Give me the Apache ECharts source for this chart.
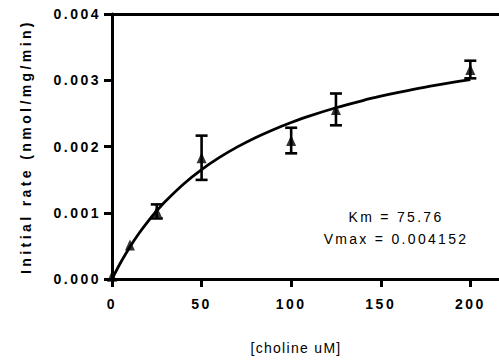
<!DOCTYPE html>
<html>
<head>
<meta charset="utf-8">
<script src="https://cdn.jsdelivr.net/npm/echarts@6/dist/echarts.min.js"></script>
<style>
  html, body { margin: 0; padding: 0; background: #fff; }
  #chart { width: 499px; height: 360px; }
</style>
</head>
<body>
<div id="chart"></div>
<script>
// Measured data (choline concentration, uM) and initial rate with SEM
const concentration = [0, 10, 25, 50, 100, 125, 200];
const rate = [0.00004, 0.000513, 0.00102, 0.00183, 0.00209, 0.00256, 0.003162];
const rateErr = [0, 0, 0.000106, 0.000334, 0.000193, 0.00024, 0.000133];

// Fitted Michaelis-Menten curve
const fitX = [0, 5, 10, 15, 20, 25, 30, 40, 50, 60, 70, 80, 90, 100, 110, 125, 140, 150, 160, 175, 190, 200];
const fitY = [0, 0.000257, 0.000484, 0.000686, 0.000867, 0.00103, 0.001178, 0.001435, 0.001651, 0.001835,
              0.001994, 0.002133, 0.002254, 0.002362, 0.002459, 0.002585, 0.002694, 0.002759, 0.002818,
              0.002898, 0.002968, 0.003011];

const xTicks = [0, 50, 100, 150, 200];
const annotation = ['Km = 75.76', 'Vmax = 0.004152'];
const xTitle = '[choline uM]';
const yTitle = 'Initial rate (nmol/mg/min)';

const chart = echarts.init(document.getElementById('chart'), null, { renderer: 'svg' });

const points = concentration.map((c, i) => [c, rate[i]]);
const errData = concentration.map((c, i) => [c, rate[i], rateErr[i]]);
const fitData = fitX.map((x, i) => [x, fitY[i]]);

const FONT = 'Liberation Sans';

chart.setOption({
  animation: false,
  backgroundColor: '#fff',
  grid: { left: 112, top: 14, right: 0, bottom: 81 },
  xAxis: [{
    type: 'value', min: 0, max: 216, interval: 50,
    axisLine: { show: true, lineStyle: { color: '#000', width: 3 } },
    axisTick: { show: true, length: 8, lineStyle: { color: '#000', width: 3 }, customValues: xTicks },
    axisLabel: { customValues: xTicks, margin: 18, color: '#000', fontFamily: FONT, fontWeight: 'bold', fontSize: 14 },
    splitLine: { show: false }
  }, {
    type: 'value', position: 'top', min: 0, max: 216,
    axisLine: { show: true, onZero: false, lineStyle: { color: '#000', width: 3 } },
    axisTick: { show: false }, axisLabel: { show: false }, splitLine: { show: false }
  }],
  yAxis: {
    type: 'value', min: 0, max: 0.004, interval: 0.001,
    name: yTitle, nameLocation: 'middle', nameGap: 79,
    nameTextStyle: { color: '#000', fontFamily: FONT, fontWeight: 'bold', fontSize: 14 },
    axisLine: { show: true, onZero: false, lineStyle: { color: '#000', width: 3 } },
    axisTick: { show: true, length: 8, lineStyle: { color: '#000', width: 3 } },
    axisLabel: { margin: 11, color: '#000', fontFamily: FONT, fontWeight: 'bold', fontSize: 14,
                 formatter: v => v.toFixed(3) },
    splitLine: { show: false }
  },
  graphic: [
    { type: 'text', position: [396, 217], z: 10, style: { text: annotation[0], fill: '#000', font: '14px ' + FONT, align: 'center', verticalAlign: 'middle' } },
    { type: 'text', position: [396, 239], z: 10, style: { text: annotation[1], fill: '#000', font: '14px ' + FONT, align: 'center', verticalAlign: 'middle' } },
    { type: 'text', position: [296, 348], z: 10, style: { text: xTitle, fill: '#000', font: '14px ' + FONT, align: 'center', verticalAlign: 'middle' } }
  ],
  series: [{
    type: 'line', data: fitData, smooth: 0.3, showSymbol: false, symbol: 'none',
    lineStyle: { color: '#000', width: 2.8 }, z: 2
  }, {
    type: 'custom', data: errData, z: 3,
    renderItem: (params, api) => {
      const x = api.value(0), y = api.value(1), e = api.value(2);
      if (!e) return null;
      const top = api.coord([x, y + e]);
      const bot = api.coord([x, y - e]);
      const hw = 6;
      const st = { stroke: '#000', lineWidth: 2.6 };
      return { type: 'group', children: [
        { type: 'line', shape: { x1: top[0], y1: top[1], x2: bot[0], y2: bot[1] }, style: st },
        { type: 'line', shape: { x1: top[0] - hw, y1: top[1], x2: top[0] + hw, y2: top[1] }, style: st },
        { type: 'line', shape: { x1: bot[0] - hw, y1: bot[1], x2: bot[0] + hw, y2: bot[1] }, style: st }
      ]};
    }
  }, {
    type: 'scatter', data: points, symbol: 'triangle', symbolSize: [10, 11],
    itemStyle: { color: '#000' }, z: 4
  }]
});

function applySpacing() {
  document.querySelectorAll('#chart svg text').forEach(t => {
    const s = t.textContent || '';
    let ls = '2.5px';
    if (s.startsWith('Initial')) ls = '3.4px';
    else if (s.startsWith('[')) ls = '1.3px';
    else if (s.startsWith('Km') || s.startsWith('Vmax')) ls = '2.3px';
    t.style.letterSpacing = ls;
  });
}
applySpacing();
setTimeout(applySpacing, 50);
</script>
</body>
</html>
